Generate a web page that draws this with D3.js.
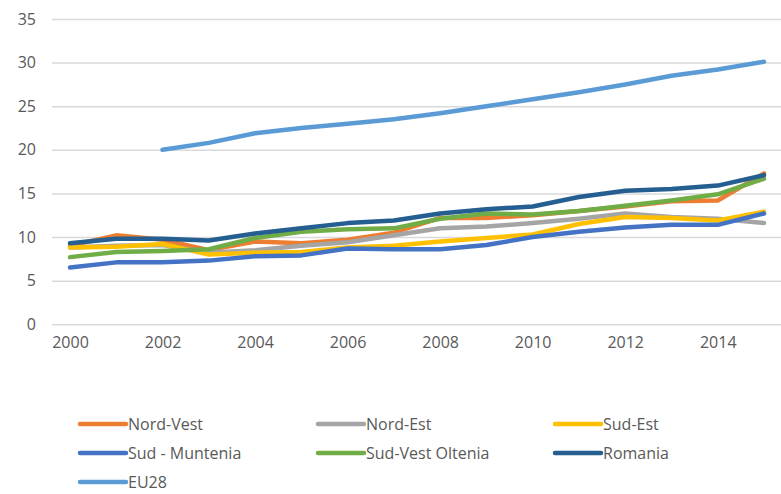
<!DOCTYPE html>
<html><head><meta charset="utf-8">
<script src="https://cdn.jsdelivr.net/npm/d3@7"></script>
<style>body{margin:0;background:#fff}svg{display:block}text{font-family:"Open Sans",sans-serif;fill:#595959}</style>
</head><body><svg id="c" width="781" height="494"></svg>
<script>
const years = [2000,2001,2002,2003,2004,2005,2006,2007,2008,2009,2010,2011,2012,2013,2014,2015];
const yTicks = [0,5,10,15,20,25,30,35];
const xTicks = [2000,2002,2004,2006,2008,2010,2012,2014];
const seriesNames = ["Nord-Vest","Nord-Est","Sud-Est","Sud - Muntenia","Sud-Vest Oltenia","Romania","EU28"];
const seriesColors = ["#ED7D31","#A5A5A5","#FFC000","#4472C4","#70AD47","#255E91","#5B9BD5"];
const nordVest   = [9.0,10.2,9.7,8.5,9.5,9.3,9.7,10.5,12.2,12.2,12.5,13.0,13.5,14.1,14.2,17.3];
const nordEst    = [8.8,9.0,9.1,8.2,8.5,9.0,9.4,10.2,11.0,11.2,11.6,12.1,12.7,12.3,12.1,11.6];
const sudEst     = [8.8,8.9,9.2,8.0,8.2,8.3,8.8,9.0,9.5,9.9,10.3,11.5,12.3,12.2,11.9,12.9];
const sudMuntenia= [6.5,7.1,7.1,7.3,7.8,7.9,8.7,8.6,8.6,9.1,10.0,10.6,11.1,11.4,11.4,12.7];
const sudVestOlt = [7.7,8.3,8.4,8.6,9.9,10.6,10.9,11.0,12.1,12.7,12.6,13.0,13.6,14.2,14.9,16.7];
const romania    = [9.3,9.8,9.8,9.6,10.4,11.0,11.6,11.9,12.7,13.2,13.5,14.6,15.3,15.5,15.9,17.1];
const eu28       = [null,null,20.0,20.8,21.9,22.5,23.0,23.5,24.2,25.0,25.8,26.6,27.5,28.5,29.2,30.1];
const seriesValues = [nordVest,nordEst,sudEst,sudMuntenia,sudVestOlt,romania,eu28];

const svg = d3.select("#c");
const x = d3.scaleLinear().domain([2000,2015]).range([70,764]);
const y = d3.scaleLinear().domain([0,35]).range([324.3,19]);

// gridlines
const yAxis = d3.axisLeft(y).tickValues(yTicks).tickSize(-(781-52)).tickPadding(16).tickFormat(d3.format("d"));
const gy = svg.append("g").attr("transform","translate(52,0)").call(yAxis);
gy.select(".domain").remove();
gy.selectAll(".tick line").attr("stroke","#d9d9d9").attr("stroke-width",1.5);
gy.selectAll(".tick text").style("font-size","16px").attr("fill","#595959");

const xAxis = d3.axisBottom(x).tickValues(xTicks).tickSize(0).tickPadding(12).tickFormat(d3.format("d"));
const gx = svg.append("g").attr("transform","translate(0,324.3)").call(xAxis);
gx.select(".domain").remove();
gx.selectAll(".tick text").style("font-size","16px").attr("fill","#595959");

const line = d3.line().defined(d=>d.v!=null).x(d=>x(d.year)).y(d=>y(d.v));
seriesNames.forEach((name,i)=>{
  const data = years.map((yr,j)=>({year:yr,v:seriesValues[i][j]}));
  svg.append("path").datum(data).attr("d",line).attr("fill","none")
    .attr("stroke",seriesColors[i]).attr("stroke-width",4.5)
    .attr("stroke-linejoin","round").attr("stroke-linecap","round");
});

// legend
const legX = [80,318,555], legY = [424,453,482];
seriesNames.forEach((name,i)=>{
  const lx = legX[i%3], ly = legY[Math.floor(i/3)];
  const g = svg.append("g").attr("transform",`translate(${lx},${ly})`);
  g.append("line").attr("x1",0).attr("x2",46).attr("y1",0).attr("y2",0)
    .attr("stroke",seriesColors[i]).attr("stroke-width",4.5).attr("stroke-linecap","round");
  g.append("text").attr("x",48).attr("y",0).attr("dy","0.35em").style("font-size","16px").text(name);
});
</script></body></html>
